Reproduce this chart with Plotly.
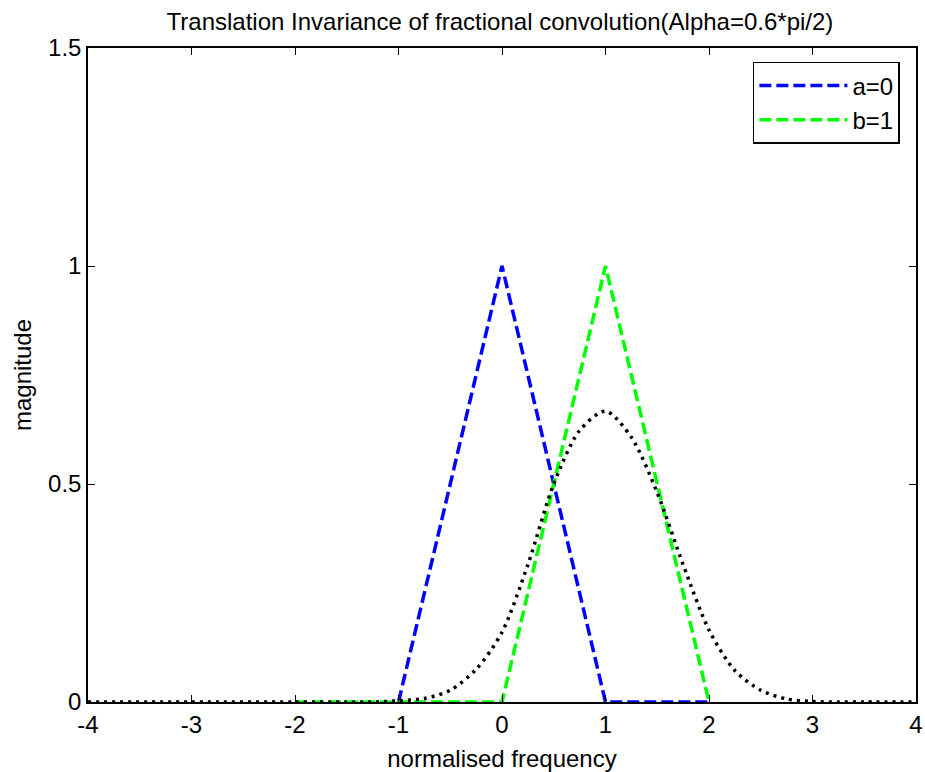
import plotly.graph_objects as go

# Shifted triangle a=0 (peak at 0), then zero up to 2
a_x = [-1.0, 0.0, 1.0, 2.0]
a_y = [0.0, 1.0, 0.0, 0.0]

# Shifted triangle b=1 (zero from -2, peak at 1)
b_x = [-2.0, 0.0, 1.0, 2.0]
b_y = [0.0, 0.0, 1.0, 0.0]

# Fractional convolution result
c_x = [-4.0, -3.0, -2.0, -1.5, -1.25, -1.0, -0.75, -0.5, -0.25, 0.0, 0.25, 0.5, 0.75,
       1.0, 1.25, 1.5, 1.75, 2.0, 2.25, 2.5, 2.75, 3.0, 3.25, 3.5, 4.0]
c_y = [0.0, 0.0, 0.0, 0.0, 0.0, 0.003, 0.008, 0.027, 0.075, 0.16, 0.315, 0.50, 0.623,
       0.667, 0.607, 0.48, 0.315, 0.165, 0.072, 0.027, 0.007, 0.001, 0.0, 0.0, 0.0]

x_ticks = [-4, -3, -2, -1, 0, 1, 2, 3, 4]
y_ticks = [0, 0.5, 1, 1.5]
y_labels = ["0", "0.5", "1", "1.5"]

font = "Liberation Sans, Arial, sans-serif"

fig = go.Figure()
fig.add_trace(go.Scatter(x=a_x, y=a_y, mode="lines", name="a=0",
                         line=dict(color="#0000ff", width=3.5, dash="12px,5px")))
fig.add_trace(go.Scatter(x=b_x, y=b_y, mode="lines", name="b=1",
                         line=dict(color="#00ff00", width=3.5, dash="12px,5px")))
fig.add_trace(go.Scatter(x=c_x, y=c_y, mode="lines", showlegend=False,
                         line=dict(color="black", width=3.5, dash="3px,5px",
                                   shape="spline", smoothing=0.8)))

axis_common = dict(showline=True, linecolor="black", linewidth=1.5, mirror="allticks",
                   ticks="inside", ticklen=7, tickcolor="black", tickwidth=1,
                   showgrid=False, zeroline=False, automargin=False,
                   tickfont=dict(family=font, size=24, color="black"))

fig.update_layout(
    width=925, height=772,
    margin=dict(l=88, r=9, t=48, b=70),
    paper_bgcolor="white", plot_bgcolor="white",
    title=dict(text="Translation Invariance of fractional convolution(Alpha=0.6*pi/2)",
               x=0.5405, xanchor="center", y=0.9715, yanchor="middle",
               font=dict(family=font, size=24, color="black")),
    xaxis=dict(range=[-4, 4], tickvals=x_ticks, ticktext=[str(t) for t in x_ticks],
               title=dict(text="normalised frequency", standoff=15,
                          font=dict(family=font, size=24, color="black")),
               **axis_common),
    yaxis=dict(range=[0, 1.5], tickvals=y_ticks, ticktext=y_labels,
               title=dict(text="magnitude", standoff=10,
                          font=dict(family=font, size=24, color="black")),
               **axis_common),
    legend=dict(x=0.803, y=0.9786, xanchor="left", yanchor="top",
                bgcolor="white", bordercolor="black", borderwidth=1.5,
                font=dict(family=font, size=24, color="black"),
                itemwidth=88),
    showlegend=True,
)

fig.write_html("out.html")
